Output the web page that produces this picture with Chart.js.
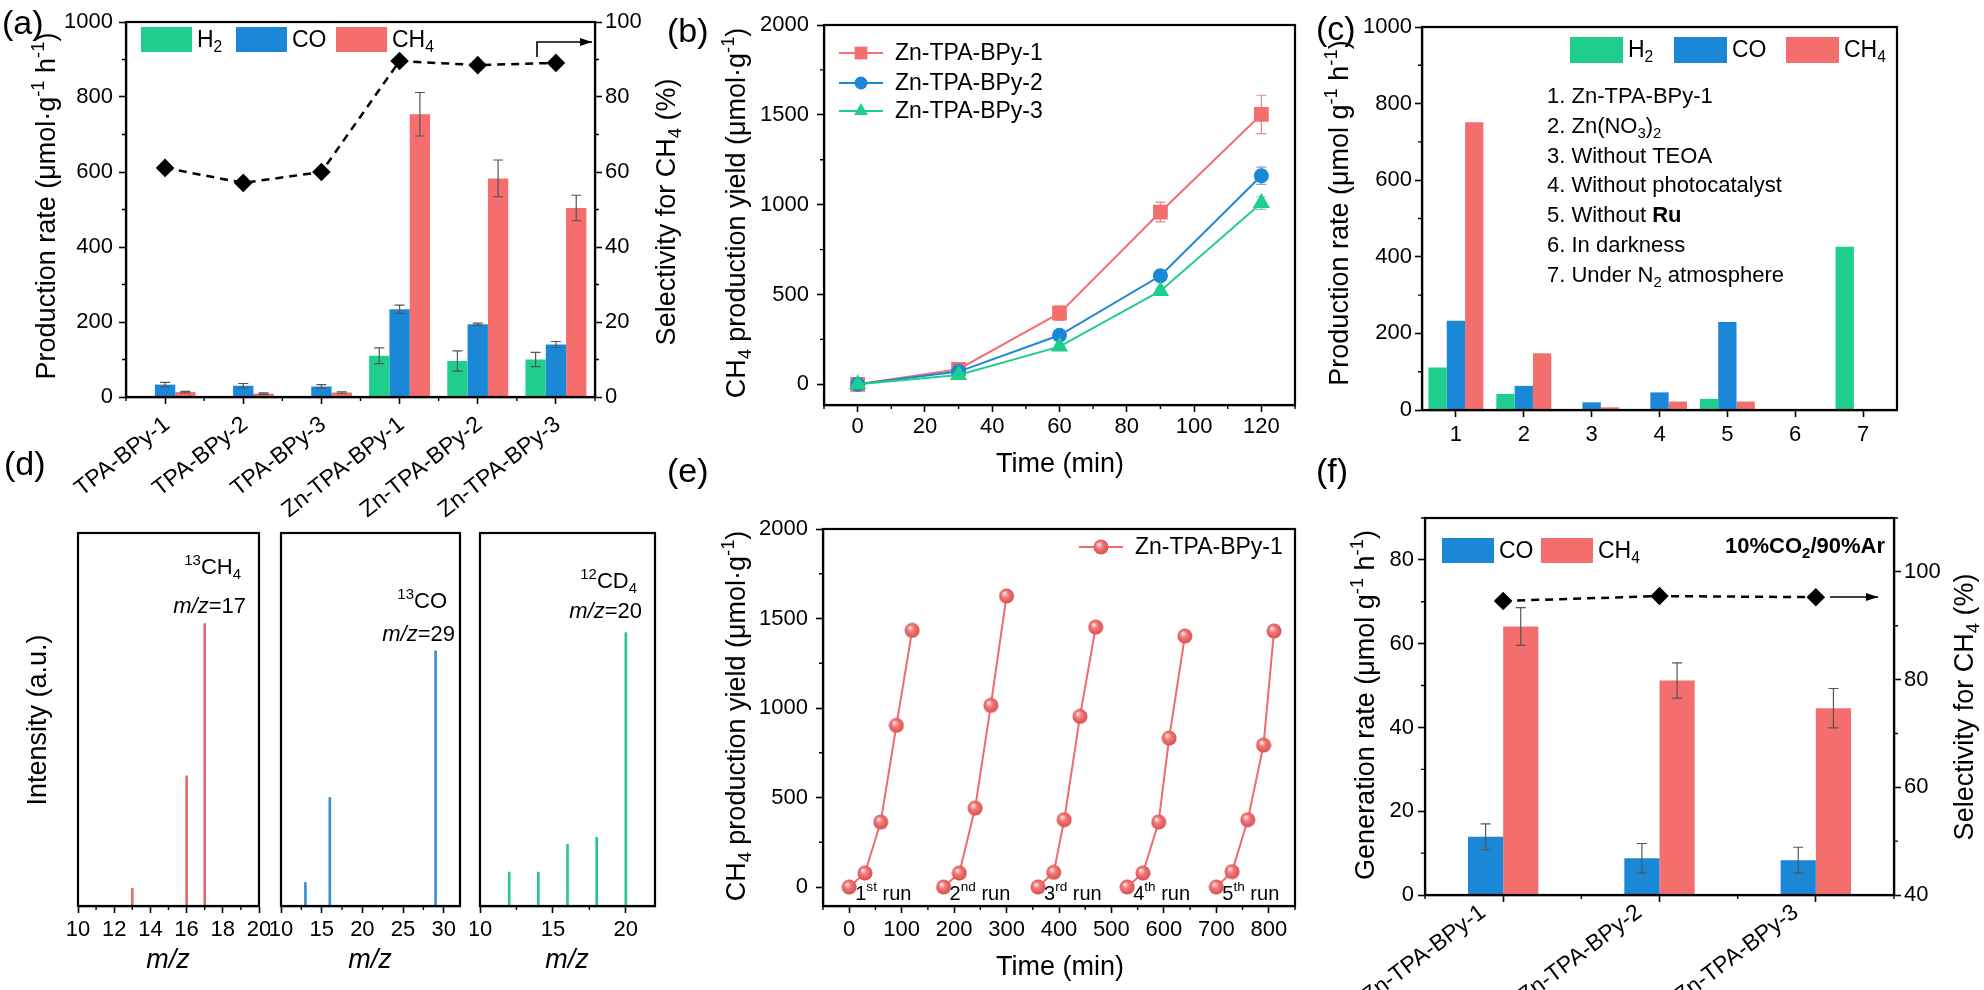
<!DOCTYPE html>
<html>
<head>
<meta charset="utf-8">
<script src="https://cdn.jsdelivr.net/npm/chart.js@4.4.1/dist/chart.umd.min.js"></script>
<style>
  body { margin: 0; background: #fff; width: 1984px; height: 990px; position: relative; overflow: hidden; }
  canvas { position: absolute; }
  .lab { position: absolute; font: 34px 'Liberation Sans', Arial, sans-serif; line-height: 1; color: #000; z-index: 5; }
</style>
</head>
<body>
<canvas id="ca"></canvas>
<canvas id="cb"></canvas>
<canvas id="cc"></canvas>
<canvas id="cd1"></canvas>
<canvas id="cd2"></canvas>
<canvas id="cd3"></canvas>
<canvas id="ce"></canvas>
<canvas id="cf"></canvas>
<div class="lab" style="left:2px;top:5px">(a)</div>
<div class="lab" style="left:667px;top:13px">(b)</div>
<div class="lab" style="left:1316px;top:11px">(c)</div>
<div class="lab" style="left:4px;top:446px">(d)</div>
<div class="lab" style="left:667px;top:453px">(e)</div>
<div class="lab" style="left:1316px;top:453px">(f)</div>
<script>
// ---- data ----
// (a) production rates and selectivity
const catsA = ['TPA-BPy-1', 'TPA-BPy-2', 'TPA-BPy-3', 'Zn-TPA-BPy-1', 'Zn-TPA-BPy-2', 'Zn-TPA-BPy-3'];
const h2A = [0, 0, 0, 110, 96, 100];
const coA = [33, 30, 28, 234, 194, 140];
const ch4A = [13, 9, 12, 754, 583, 504];
const h2ErrA = [0, 0, 0, 21, 27, 19];
const coErrA = [6, 6, 5, 11, 3, 8];
const ch4ErrA = [2, 2, 2, 58, 49, 34];
const selA = [61.1, 57.1, 60.0, 89.6, 88.5, 89.1];

// (b) CH4 yield vs time
const timeB = [0, 30, 60, 90, 120];
const yieldB1 = [0, 84, 396, 959, 1502];
const yieldB2 = [0, 71, 273, 604, 1161];
const yieldB3 = [0, 52, 210, 520, 1009];
const errB1 = [12, 15, 40, 55, 107];
const errB2 = [10, 10, 12, 12, 48];
const errB3 = [10, 8, 10, 10, 35];

// (c) control experiments
const catsC = ['1', '2', '3', '4', '5', '6', '7'];
const h2C = [111, 42, 0, 0, 29, 0, 426];
const coC = [233, 63, 20, 46, 230, 0, 0];
const ch4C = [751, 148, 7, 22, 22, 0, 0];
const condC = ['1. Zn-TPA-BPy-1', '2. Zn(NO_{3})_{2}', '3. Without TEOA', '4. Without photocatalyst',
  '5. Without *{Ru}', '6. In darkness', '7. Under N_{2} atmosphere'];

// (d) mass spectra (relative intensity)
const mzD1 = [13, 16, 17];
const intD1 = [0.047, 0.349, 0.757];
const mzD2 = [13, 16, 29];
const intD2 = [0.063, 0.291, 0.684];
const mzD3 = [12, 14, 16, 18, 20];
const intD3 = [0.091, 0.091, 0.165, 0.184, 0.733];

// (e) cycling runs
const runTimesE = [[0, 30, 60, 90, 120], [180, 210, 240, 270, 300], [360, 390, 410, 440, 470],
  [530, 560, 590, 610, 640], [700, 730, 760, 790, 810]];
const runYieldsE = [[0, 78, 363, 903, 1434], [0, 78, 441, 1015, 1626], [0, 82, 376, 953, 1452],
  [0, 78, 363, 832, 1402], [0, 86, 376, 793, 1430]];
const runLabelsE = ['1^{st} run', '2^{nd} run', '3^{rd} run', '4^{th} run', '5^{th} run'];

// (f) 10% CO2
const catsF = ['Zn-TPA-BPy-1', 'Zn-TPA-BPy-2', 'Zn-TPA-BPy-3'];
const coF = [13.9, 8.8, 8.3];
const ch4F = [64.1, 51.2, 44.6];
const coErrF = [3.1, 3.5, 3.1];
const ch4ErrF = [4.5, 4.2, 4.7];
const selF = [94.6, 95.5, 95.3];

// ---- styling ----
const FONT = "'Liberation Sans', Arial, Helvetica, sans-serif";
const GREEN = '#1fce8c', BLUE = '#1b87d7', RED = '#f56e6e';
Chart.defaults.font.family = FONT;
Chart.defaults.color = '#000';
Chart.defaults.animation = false;
Chart.defaults.responsive = false;
Chart.defaults.events = [];
Chart.defaults.plugins.legend.display = false;
Chart.defaults.plugins.tooltip.enabled = false;

const BORDER = { display: true, color: '#000', width: 2.2 };
const grid = () => ({ drawOnChartArea: false, drawTicks: true, tickLength: 7, tickWidth: 1.6, tickColor: '#000', offset: false });
const tk = (size, pad, extra) => Object.assign({ font: { size: size, family: FONT }, color: '#000', padding: pad }, extra || {});
const num = (size, pad) => tk(size, pad, { autoSkip: false, callback: v => String(v) });
const zeroPad = s => { s.paddingLeft = s.paddingRight = s.paddingTop = s.paddingBottom = 0; };
const fitW = w => s => { s.width = w; zeroPad(s); };
const fitH = h => s => { s.height = h; zeroPad(s); };
// major ticks placed at lo, lo+step, ... hi
const ticksAt = (lo, hi, step) => s => {
  const out = [];
  for (let v = lo; v <= hi + 1e-9; v += step) out.push({ value: Math.round(v * 1e6) / 1e6 });
  s.ticks = out;
};

function place(id, x, y, w, h) {
  const el = document.getElementById(id);
  el.width = w; el.height = h;
  el.style.left = x + 'px'; el.style.top = y + 'px';
  el.style.width = w + 'px'; el.style.height = h + 'px';
  return { el: el, ox: x, oy: y };
}

// small rich text: _{sub} ^{sup} *{bold} ~{italic}
function parseRich(str) {
  const out = []; let buf = ''; let i = 0;
  while (i < str.length) {
    const c = str[i];
    if ('_^*~'.includes(c) && str[i + 1] === '{') {
      if (buf) { out.push({ t: buf, k: '' }); buf = ''; }
      const j = str.indexOf('}', i);
      out.push({ t: str.slice(i + 2, j), k: c });
      i = j + 1;
    } else { buf += c; i++; }
  }
  if (buf) out.push({ t: buf, k: '' });
  return out;
}
function drawRich(ctx, str, x, y, size, align, rot, weight) {
  const parts = parseRich(str);
  const fontOf = p => {
    const small = p.k === '_' || p.k === '^';
    const w = p.k === '*' ? 'bold' : (weight || 'normal');
    const st = p.k === '~' ? 'italic' : 'normal';
    return st + ' ' + w + ' ' + (small ? size * 0.68 : size) + 'px ' + FONT;
  };
  let total = 0;
  parts.forEach(p => { ctx.font = fontOf(p); p.w = ctx.measureText(p.t).width; total += p.w; });
  ctx.save();
  ctx.translate(x, y);
  ctx.rotate(rot || 0);
  ctx.textBaseline = 'middle';
  ctx.textAlign = 'left';
  ctx.fillStyle = '#000';
  let cx = align === 'center' ? -total / 2 : align === 'right' ? -total : 0;
  parts.forEach(p => {
    ctx.font = fontOf(p);
    const dy = p.k === '_' ? size * 0.3 : p.k === '^' ? -size * 0.33 : 0;
    ctx.fillText(p.t, cx, dy);
    cx += p.w;
  });
  ctx.restore();
}

function marker(ctx, style, r, x, y, color) {
  if (typeof style === 'object') { ctx.drawImage(style, x - style.width / 2, y - style.height / 2); return; }
  ctx.fillStyle = color;
  ctx.beginPath();
  if (style === 'rect') {
    const a = r * Math.SQRT1_2;
    ctx.rect(x - a, y - a, 2 * a, 2 * a);
  } else if (style === 'triangle') {
    ctx.moveTo(x, y - r);
    ctx.lineTo(x + 0.866 * r, y + 0.5 * r);
    ctx.lineTo(x - 0.866 * r, y + 0.5 * r);
    ctx.closePath();
  } else {
    ctx.arc(x, y, r, 0, Math.PI * 2);
  }
  ctx.fill();
}

function sphere(d) {
  const c = document.createElement('canvas');
  c.width = c.height = d;
  const g = c.getContext('2d');
  const gr = g.createRadialGradient(d * 0.36, d * 0.33, d * 0.04, d / 2, d / 2, d / 2);
  gr.addColorStop(0, '#ffe0e0');
  gr.addColorStop(0.35, '#f37c7c');
  gr.addColorStop(1, '#d94a4a');
  g.fillStyle = gr;
  g.beginPath();
  g.arc(d / 2, d / 2, d / 2 - 0.5, 0, Math.PI * 2);
  g.fill();
  return c;
}
const BALL = sphere(16);

// decorations: error bars, frame, minor ticks, texts, legends, arrows
function deco(cfg) {
  const errBars = chart => {
    const ctx = chart.ctx;
    (cfg.err || []).forEach(eb => {
      const meta = chart.getDatasetMeta(eb.ds);
      const ys = chart.scales[meta.yAxisID];
      const data = chart.data.datasets[eb.ds].data;
      ctx.save();
      ctx.strokeStyle = eb.color || '#555';
      ctx.lineWidth = 1.2;
      meta.data.forEach((el, j) => {
        const e = eb.e[j];
        if (!e) return;
        const v = typeof data[j] === 'object' ? data[j].y : data[j];
        const x = el.x, y1 = ys.getPixelForValue(v + e), y2 = ys.getPixelForValue(v - e);
        ctx.beginPath();
        ctx.moveTo(x, y1); ctx.lineTo(x, y2);
        ctx.moveTo(x - 5, y1); ctx.lineTo(x + 5, y1);
        ctx.moveTo(x - 5, y2); ctx.lineTo(x + 5, y2);
        ctx.stroke();
      });
      ctx.restore();
    });
  };
  return {
    id: 'deco',
    beforeDatasetsDraw(chart) { if (cfg.errUnder) errBars(chart); },
    afterDatasetsDraw(chart) { if (!cfg.errUnder) errBars(chart); },
    afterDraw(chart) {
      const ctx = chart.ctx, a = chart.chartArea, ox = cfg.ox, oy = cfg.oy;
      ctx.save();
      ctx.strokeStyle = '#000';
      ctx.lineWidth = 2.2;
      ctx.strokeRect(a.left, a.top, a.right - a.left, a.bottom - a.top);
      // minor ticks
      ctx.lineWidth = 1.4;
      (cfg.minor || []).forEach(m => {
        const s = chart.scales[m.id];
        const px = [];
        if (m.cat) {
          for (let i = 0; i <= s.ticks.length; i++) px.push(s.getPixelForValue(i - 0.5));
        } else {
          for (let v = Math.ceil(s.min / m.step) * m.step; v <= s.max + 1e-9; v += m.step) {
            if (!s.ticks.some(t => Math.abs(t.value - v) < 1e-9)) px.push(s.getPixelForValue(v));
          }
        }
        ctx.beginPath();
        px.forEach(p => {
          if (s.position === 'left') { ctx.moveTo(a.left, p); ctx.lineTo(a.left - 4, p); }
          else if (s.position === 'right') { ctx.moveTo(a.right, p); ctx.lineTo(a.right + 4, p); }
          else { ctx.moveTo(p, a.bottom); ctx.lineTo(p, a.bottom + 4); }
        });
        ctx.stroke();
      });
      // slanted category labels
      if (cfg.catLabels) {
        const L = cfg.catLabels, s = chart.scales.x;
        chart.data.labels.forEach((lab, i) => {
          drawRich(ctx, lab, s.getPixelForTick(i) + L.dx, a.bottom + L.dy, L.size, 'right', -L.angle * Math.PI / 180);
        });
      }
      // texts in page coordinates
      (cfg.texts || []).forEach(t => drawRich(ctx, t.s, t.x - ox, t.y - oy, t.size, t.align, t.rot, t.weight));
      // texts anchored to data values
      (cfg.dataTexts || []).forEach(t => {
        const x = chart.scales.x.getPixelForValue(t.xv) + t.dx;
        const y = chart.scales.y.getPixelForValue(t.yv) + t.dy;
        drawRich(ctx, t.s, x, y, t.size, t.align);
      });
      // legend
      if (cfg.legend) {
        const L = cfg.legend;
        L.items.forEach(it => {
          const ds = chart.data.datasets[it.ds];
          const x = it.x - ox, y = it.y - oy;
          if (L.kind === 'box') {
            ctx.fillStyle = ds.backgroundColor;
            ctx.fillRect(x, y, L.w, L.h);
            drawRich(ctx, ds.label, x + L.w + 5, y + L.h / 2 + 1, L.size, 'left');
          } else {
            ctx.strokeStyle = ds.borderColor;
            ctx.lineWidth = 2;
            ctx.beginPath(); ctx.moveTo(x, y); ctx.lineTo(x + L.w, y); ctx.stroke();
            marker(ctx, ds.pointStyle, ds.pointRadius, x + L.w / 2, y, ds.backgroundColor);
            drawRich(ctx, ds.label, x + L.w + 12, y + 1, L.size, 'left');
          }
        });
      }
      // arrows
      (cfg.arrows || []).forEach(ar => {
        const p = ar.map(q => [q[0] - ox, q[1] - oy]);
        ctx.strokeStyle = '#000';
        ctx.fillStyle = '#000';
        ctx.lineWidth = 1.6;
        ctx.beginPath();
        ctx.moveTo(p[0][0], p[0][1]);
        p.slice(1).forEach(q => ctx.lineTo(q[0], q[1]));
        ctx.stroke();
        const e = p[p.length - 1], b = p[p.length - 2];
        const ang = Math.atan2(e[1] - b[1], e[0] - b[0]);
        ctx.beginPath();
        ctx.moveTo(e[0], e[1]);
        ctx.lineTo(e[0] - 12 * Math.cos(ang) + 4 * Math.sin(ang), e[1] - 12 * Math.sin(ang) - 4 * Math.cos(ang));
        ctx.lineTo(e[0] - 12 * Math.cos(ang) - 4 * Math.sin(ang), e[1] - 12 * Math.sin(ang) + 4 * Math.cos(ang));
        ctx.closePath();
        ctx.fill();
      });
      ctx.restore();
    }
  };
}

const ROT = -Math.PI / 2;
const TS = 27;

// ---- (a) ----
(function () {
  const c = place('ca', 0, 0, 700, 530);
  new Chart(c.el, {
    type: 'bar',
    data: {
      labels: catsA,
      datasets: [
        { label: 'H_{2}', data: h2A, backgroundColor: GREEN, order: 1 },
        { label: 'CO', data: coA, backgroundColor: BLUE, order: 1 },
        { label: 'CH_{4}', data: ch4A, backgroundColor: RED, order: 1 },
        { type: 'line', label: 'Selectivity', data: selA, yAxisID: 'y2', borderColor: '#000', borderWidth: 2.5,
          borderDash: [8, 6], pointStyle: 'rectRot', pointRadius: 7.5, pointBackgroundColor: '#000',
          pointBorderColor: '#000', order: 0 }
      ]
    },
    options: {
      layout: { padding: { top: 22, left: 0, right: 0, bottom: 0 } },
      datasets: { bar: { categoryPercentage: 0.78, barPercentage: 1 } },
      scales: {
        x: { grid: grid(), border: BORDER, ticks: { display: false }, afterFit: fitH(133) },
        y: { min: 0, max: 1000, ticks: num(22, 6), grid: grid(), border: BORDER,
          afterBuildTicks: ticksAt(0, 1000, 200), afterFit: fitW(126) },
        y2: { position: 'right', min: 0, max: 100, ticks: num(22, 3), grid: grid(), border: BORDER,
          afterBuildTicks: ticksAt(0, 100, 20), afterFit: fitW(105) }
      }
    },
    plugins: [deco({
      ox: c.ox, oy: c.oy,
      err: [{ ds: 0, e: h2ErrA }, { ds: 1, e: coErrA }, { ds: 2, e: ch4ErrA }],
      minor: [{ id: 'y', step: 100 }, { id: 'y2', step: 10 }, { id: 'x', cat: true }],
      catLabels: { angle: 38, size: 23, dx: 2, dy: 25 },
      texts: [
        { s: 'Production rate (μmol·g^{-1} h^{-1})', x: 48, y: 206, size: TS, align: 'center', rot: ROT },
        { s: 'Selectivity for CH_{4} (%)', x: 668, y: 212, size: TS, align: 'center', rot: ROT }
      ],
      legend: { kind: 'box', w: 51, h: 25, size: 23, items: [{ ds: 0, x: 141, y: 27 }, { ds: 1, x: 236, y: 27 }, { ds: 2, x: 336, y: 27 }] },
      arrows: [[[537, 57], [537, 42], [592, 42]]]
    })]
  });
})();

// ---- (b) ----
(function () {
  const c = place('cb', 690, 0, 620, 500);
  const pts = ys => timeB.map((t, i) => ({ x: t, y: ys[i] }));
  new Chart(c.el, {
    type: 'line',
    data: {
      datasets: [
        { label: 'Zn-TPA-BPy-1', data: pts(yieldB1), borderColor: RED, backgroundColor: RED, pointBorderColor: RED,
          pointStyle: 'rect', pointRadius: 9, borderWidth: 2, order: 2 },
        { label: 'Zn-TPA-BPy-2', data: pts(yieldB2), borderColor: BLUE, backgroundColor: BLUE, pointBorderColor: BLUE,
          pointStyle: 'circle', pointRadius: 6.5, borderWidth: 2, order: 1 },
        { label: 'Zn-TPA-BPy-3', data: pts(yieldB3), borderColor: GREEN, backgroundColor: GREEN, pointBorderColor: GREEN,
          pointStyle: 'triangle', pointRadius: 8, borderWidth: 2, order: 0 }
      ]
    },
    options: {
      layout: { padding: { top: 25, right: 15, left: 0, bottom: 0 } },
      scales: {
        x: { type: 'linear', min: -10, max: 130, ticks: num(22, 2), grid: grid(), border: BORDER,
          afterBuildTicks: ticksAt(0, 120, 20), afterFit: fitH(95) },
        y: { min: -115, max: 2000, ticks: num(22, 8), grid: grid(), border: BORDER,
          afterBuildTicks: ticksAt(0, 2000, 500), afterFit: fitW(134) }
      }
    },
    plugins: [deco({
      ox: c.ox, oy: c.oy, errUnder: true,
      err: [{ ds: 0, e: errB1, color: '#e08a8a' }, { ds: 1, e: errB2, color: '#6fa6d8' }, { ds: 2, e: errB3, color: '#6fd6b0' }],
      minor: [{ id: 'x', step: 10 }, { id: 'y', step: 250 }],
      texts: [
        { s: 'CH_{4} production yield (μmol·g^{-1})', x: 738, y: 213, size: TS, align: 'center', rot: ROT },
        { s: 'Time (min)', x: 1060, y: 465, size: TS, align: 'center' }
      ],
      legend: { kind: 'line', w: 44, size: 23, items: [{ ds: 0, x: 839, y: 53 }, { ds: 1, x: 839, y: 83 }, { ds: 2, x: 839, y: 111 }] }
    })]
  });
})();

// ---- (c) ----
(function () {
  const c = place('cc', 1310, 0, 674, 500);
  new Chart(c.el, {
    type: 'bar',
    data: {
      labels: catsC,
      datasets: [
        { label: 'H_{2}', data: h2C, backgroundColor: GREEN },
        { label: 'CO', data: coC, backgroundColor: BLUE },
        { label: 'CH_{4}', data: ch4C, backgroundColor: RED }
      ]
    },
    options: {
      layout: { padding: { top: 27, right: 87, left: 0, bottom: 0 } },
      datasets: { bar: { categoryPercentage: 0.81, barPercentage: 1 } },
      scales: {
        x: { grid: grid(), border: BORDER, ticks: tk(22, 5), afterFit: fitH(90) },
        y: { min: 0, max: 1000, ticks: num(22, 3), grid: grid(), border: BORDER,
          afterBuildTicks: ticksAt(0, 1000, 200), afterFit: fitW(112) }
      }
    },
    plugins: [deco({
      ox: c.ox, oy: c.oy,
      minor: [{ id: 'y', step: 100 }],
      texts: [{ s: 'Production rate (μmol g^{-1} h^{-1})', x: 1341, y: 213, size: TS, align: 'center', rot: ROT }]
        .concat(condC.map((s, i) => ({ s: s, x: 1547, y: 97 + 29.8 * i, size: 22, align: 'left' }))),
      legend: { kind: 'box', w: 53, h: 26, size: 23, items: [{ ds: 0, x: 1570, y: 37 }, { ds: 1, x: 1674, y: 37 }, { ds: 2, x: 1786, y: 37 }] }
    })]
  });
})();

// ---- (d) ----
function spectrum(id, x, w, padL, padR, mz, inten, color, xmin, xmax, major, minor, texts) {
  const c = place(id, x, 500, w, 490);
  new Chart(c.el, {
    type: 'bar',
    data: { datasets: [{ label: id, data: mz.map((m, i) => ({ x: m, y: inten[i] })), backgroundColor: color, barThickness: 2 }] },
    options: {
      layout: { padding: { top: 33, left: padL, right: padR, bottom: 0 } },
      scales: {
        x: { type: 'linear', offset: false, min: xmin, max: xmax, ticks: num(22, 4), grid: grid(), border: BORDER,
          afterBuildTicks: ticksAt(xmin, xmax, major), afterFit: fitH(84) },
        y: { display: false, min: 0, max: 1 }
      }
    },
    plugins: [deco({ ox: c.ox, oy: c.oy, minor: [{ id: 'x', step: minor }], texts: texts })]
  });
}
spectrum('cd1', 0, 270, 78, 11, mzD1, intD1, '#e36c6c', 10, 20, 2, 1, [
  { s: 'Intensity (a.u.)', x: 39, y: 720, size: TS, align: 'center', rot: ROT },
  { s: '^{13}CH_{4}', x: 241, y: 568, size: 22, align: 'right' },
  { s: '~{m/z}=17', x: 246, y: 607, size: 22, align: 'right' },
  { s: '~{m/z}', x: 168, y: 960, size: TS, align: 'center' }
]);
spectrum('cd2', 270, 200, 11, 10, mzD2, intD2, '#3d8fcf', 10, 32, 5, 2.5, [
  { s: '^{13}CO', x: 447, y: 602, size: 22, align: 'right' },
  { s: '~{m/z}=29', x: 455, y: 635, size: 22, align: 'right' },
  { s: '~{m/z}', x: 370, y: 960, size: TS, align: 'center' }
]);
spectrum('cd3', 470, 210, 10, 25, mzD3, intD3, '#2cc49c', 10, 22, 5, 2.5, [
  { s: '^{12}CD_{4}', x: 637, y: 582, size: 22, align: 'right' },
  { s: '~{m/z}=20', x: 642, y: 612, size: 22, align: 'right' },
  { s: '~{m/z}', x: 567, y: 960, size: TS, align: 'center' }
]);

// ---- (e) ----
(function () {
  const c = place('ce', 690, 500, 620, 490);
  const RC = '#f06a6a';
  new Chart(c.el, {
    type: 'line',
    data: {
      datasets: runTimesE.map((ts, r) => ({
        label: 'Zn-TPA-BPy-1',
        data: ts.map((t, i) => ({ x: t, y: runYieldsE[r][i] })),
        borderColor: RC, backgroundColor: RC, borderWidth: 2, pointStyle: BALL, pointRadius: 8
      }))
    },
    options: {
      layout: { padding: { top: 29, right: 15, left: 0, bottom: 0 } },
      scales: {
        x: { type: 'linear', min: -50, max: 850, ticks: num(22, 4), grid: grid(), border: BORDER,
          afterBuildTicks: ticksAt(0, 800, 100), afterFit: fitH(84) },
        y: { min: -106, max: 2000, ticks: num(22, 8), grid: grid(), border: BORDER,
          afterBuildTicks: ticksAt(0, 2000, 500), afterFit: fitW(133) }
      }
    },
    plugins: [deco({
      ox: c.ox, oy: c.oy,
      minor: [{ id: 'x', step: 50 }, { id: 'y', step: 250 }],
      texts: [
        { s: 'CH_{4} production yield (μmol·g^{-1})', x: 738, y: 716, size: TS, align: 'center', rot: ROT },
        { s: 'Time (min)', x: 1060, y: 968, size: TS, align: 'center' }
      ],
      dataTexts: runLabelsE.map((s, i) => ({ s: s, xv: runTimesE[i][0], yv: 0, dx: 6, dy: 7, size: 20, align: 'left' })),
      legend: { kind: 'line', w: 44, size: 23, items: [{ ds: 0, x: 1079, y: 547 }] }
    })]
  });
})();

// ---- (f) ----
(function () {
  const c = place('cf', 1310, 500, 674, 490);
  new Chart(c.el, {
    type: 'bar',
    data: {
      labels: catsF,
      datasets: [
        { label: 'CO', data: coF, backgroundColor: BLUE, order: 1 },
        { label: 'CH_{4}', data: ch4F, backgroundColor: RED, order: 1 },
        { type: 'line', label: 'Selectivity', data: selF, yAxisID: 'y2', borderColor: '#000', borderWidth: 2.5,
          borderDash: [8, 6], pointStyle: 'rectRot', pointRadius: 7.5, pointBackgroundColor: '#000',
          pointBorderColor: '#000', order: 0 }
      ]
    },
    options: {
      layout: { padding: { top: 18, left: 0, right: 0, bottom: 0 } },
      datasets: { bar: { categoryPercentage: 0.45, barPercentage: 1 } },
      scales: {
        x: { grid: grid(), border: BORDER, ticks: { display: false }, afterFit: fitH(95) },
        y: { min: 0, max: 90, ticks: num(22, 4), grid: grid(), border: BORDER,
          afterBuildTicks: ticksAt(0, 80, 20), afterFit: fitW(115) },
        y2: { position: 'right', min: 40, max: 110, ticks: num(22, 3), grid: grid(), border: BORDER,
          afterBuildTicks: ticksAt(40, 100, 20), afterFit: fitW(90) }
      }
    },
    plugins: [deco({
      ox: c.ox, oy: c.oy,
      err: [{ ds: 0, e: coErrF }, { ds: 1, e: ch4ErrF }],
      minor: [{ id: 'y', step: 10 }, { id: 'y2', step: 10 }, { id: 'x', cat: true }],
      catLabels: { angle: 37, size: 23, dx: -20, dy: 15 },
      texts: [
        { s: 'Generation rate (μmol g^{-1} h^{-1})', x: 1367, y: 705, size: TS, align: 'center', rot: ROT },
        { s: 'Selectivity for CH_{4} (%)', x: 1966, y: 707, size: TS, align: 'center', rot: ROT },
        { s: '10%CO_{2}/90%Ar', x: 1885, y: 547, size: 22, align: 'right', weight: 'bold' }
      ],
      legend: { kind: 'box', w: 52, h: 25, size: 23, items: [{ ds: 0, x: 1442, y: 538 }, { ds: 1, x: 1541, y: 538 }] },
      arrows: [[[1830, 597], [1878, 597]]]
    })]
  });
})();
</script>
</body>
</html>
